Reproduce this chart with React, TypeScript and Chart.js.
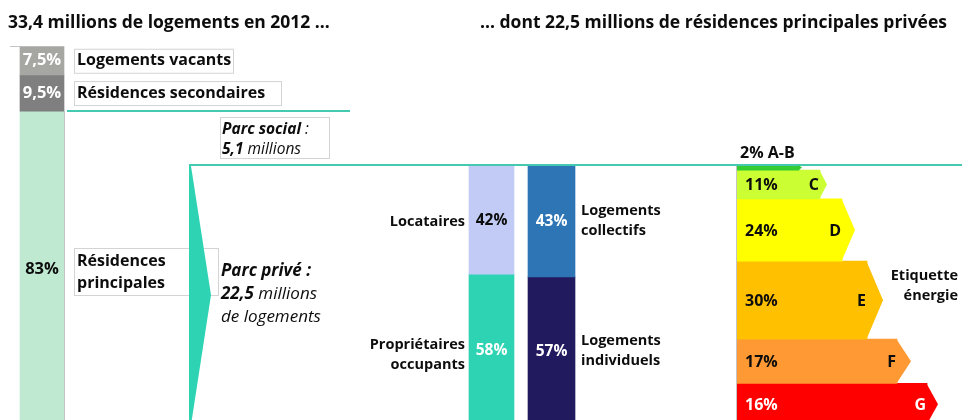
import React, { useEffect, useRef } from 'react';
import { Chart, registerables } from 'chart.js';

Chart.register(...registerables);

// ---------------- data ----------------
const YEAR = 2012;
const TOTAL_HOUSING_M = 33.4;
const PRIVATE_MAIN_M = 22.5;
const SOCIAL_M = 5.1;

const stockCategories = ['Logements vacants', 'Résidences secondaires', 'Résidences principales'];
const stockShares = [7.5, 9.5, 83];

const tenureCategories = ['Locataires', 'Propriétaires occupants'];
const tenureShares = [42, 58];

const buildingCategories = ['Logements collectifs', 'Logements individuels'];
const buildingShares = [43, 57];

const energyClasses = ['A-B', 'C', 'D', 'E', 'F', 'G'];
const energyShares = [2, 11, 24, 30, 17, 16];

// ---------------- style / layout ----------------
const W = 962;
const H = 420;
const FONT = "'Open Sans', 'DejaVu Sans', sans-serif";
const TEXT = '#0d0d0d';
const TEAL = '#2ED3B4';
const TEAL_LINE = '#45C9B1';
const AXIS_GRAY = '#c4c4c4';
const BOX_BORDER = '#d4d4d4';

const TITLE_SIZE = 17.5;
const BOX_SIZE = 16;
const STOCK_PCT_SIZE = 16.5;
const LABEL_SIZE = 14.5;
const BAR_PCT_SIZE = 15.5;
const ENERGY_SIZE = 16;
const ITALIC_SIZE = 17;
const SOCIAL_SIZE = 15.5;

const stockColors = ['#A6A6A3', '#7F7F7F', '#BFE9D0'];
const stockLabelColors = ['#ffffff', '#ffffff', TEXT];
const tenureColors = ['#C1CBF5', '#2ED3B4'];
const tenureLabelColors = [TEXT, '#ffffff'];
const buildingColors = ['#2E75B6', '#211A5F'];
const buildingLabelColors = ['#ffffff', '#ffffff'];
const energyColors = ['#33CC33', '#CCFF33', '#FFFF00', '#FFC000', '#FF9933', '#FF0000'];
const energyTextColors = [TEXT, TEXT, TEXT, TEXT, TEXT, '#ffffff'];
const energyWidths = [62, 83, 105, 130, 160, 190];
const energyTips = [3, 7, 13, 16, 14, 11];

const LEFT_TOP_PX = 46.5;
const LEFT_PX_PER_PCT = 3.8;
const RIGHT_TOP_PX = 165;
const RIGHT_PX_PER_PCT = 2.6;
const STOCK_X = 42;
const STOCK_W = 44;
const TENURE_X = 491.5;
const TENURE_W = 45;
const BUILD_X = 551.5;
const BUILD_W = 47;
const ENERGY_LEFT = 737;

// ---------------- helpers ----------------
function floating(values: number[]): [number, number][] {
  const out: [number, number][] = [];
  let acc = 0;
  for (const v of values) {
    out.push([acc, acc + v]);
    acc += v;
  }
  return out;
}
const fmtNum = (v: number) => String(v).replace('.', ',');
const pct = (v: number) => fmtNum(v) + '%';

type TOpts = { size?: number; bold?: boolean; italic?: boolean; color?: string; align?: CanvasTextAlign; baseline?: CanvasTextBaseline };
function txt(ctx: CanvasRenderingContext2D, s: string, x: number, y: number, o: TOpts = {}) {
  const { size = LABEL_SIZE, bold = true, italic = false, color = TEXT, align = 'left', baseline = 'middle' } = o;
  ctx.font = `${italic ? 'italic ' : ''}${bold ? 'bold ' : ''}${size}px ${FONT}`;
  ctx.fillStyle = color;
  ctx.textAlign = align;
  ctx.textBaseline = baseline;
  ctx.fillText(s, x, y);
}
function runs(ctx: CanvasRenderingContext2D, parts: [string, boolean, boolean][], x: number, y: number, size: number) {
  let cx = x;
  for (const [s, bold, italic] of parts) {
    ctx.font = `${italic ? 'italic ' : ''}${bold ? 'bold ' : ''}${size}px ${FONT}`;
    ctx.fillStyle = TEXT;
    ctx.textAlign = 'left';
    ctx.textBaseline = 'alphabetic';
    ctx.fillText(s, cx, y);
    cx += ctx.measureText(s).width;
  }
}
function box(ctx: CanvasRenderingContext2D, x: number, y: number, w: number, h: number) {
  ctx.fillStyle = '#ffffff';
  ctx.fillRect(x, y, w, h);
  ctx.strokeStyle = BOX_BORDER;
  ctx.lineWidth = 1;
  ctx.strokeRect(x + 0.5, y + 0.5, w, h);
}
function hline(ctx: CanvasRenderingContext2D, x1: number, x2: number, y: number, color: string, lw: number) {
  ctx.strokeStyle = color;
  ctx.lineWidth = lw;
  ctx.beginPath();
  ctx.moveTo(x1, y);
  ctx.lineTo(x2, y);
  ctx.stroke();
}
function vline(ctx: CanvasRenderingContext2D, x: number, y1: number, y2: number, color: string, lw: number) {
  ctx.strokeStyle = color;
  ctx.lineWidth = lw;
  ctx.beginPath();
  ctx.moveTo(x, y1);
  ctx.lineTo(x, y2);
  ctx.stroke();
}

// ---------------- datasets ----------------
function buildDatasets() {
  const ds: any[] = [];
  floating(stockShares).forEach((r, i) =>
    ds.push({ label: stockCategories[i], data: [{ x: STOCK_X, y: r }], backgroundColor: stockColors[i], barThickness: STOCK_W, yAxisID: 'yL', grouped: false, borderWidth: 0 })
  );
  floating(tenureShares).forEach((r, i) =>
    ds.push({ label: tenureCategories[i], data: [{ x: TENURE_X, y: r }], backgroundColor: tenureColors[i], barThickness: TENURE_W, yAxisID: 'yR', grouped: false, borderWidth: 0 })
  );
  floating(buildingShares).forEach((r, i) =>
    ds.push({ label: buildingCategories[i], data: [{ x: BUILD_X, y: r }], backgroundColor: buildingColors[i], barThickness: BUILD_W, yAxisID: 'yR', grouped: false, borderWidth: 0 })
  );
  floating(energyShares).forEach((r, i) =>
    ds.push({ label: 'Classe ' + energyClasses[i], data: [{ x: ENERGY_LEFT + energyWidths[i] / 2, y: r }], backgroundColor: energyColors[i], barThickness: energyWidths[i], yAxisID: 'yR', grouped: false, borderWidth: 0 })
  );
  return ds;
}

const N_STOCK = stockShares.length;
const N_TEN = tenureShares.length;
const N_BLD = buildingShares.length;

function geom(chart: any, dsIndex: number) {
  const el = chart.getDatasetMeta(dsIndex).data[0];
  const p = el.getProps(['x', 'y', 'base', 'width'], true);
  return { left: p.x - p.width / 2, right: p.x + p.width / 2, cx: p.x, top: Math.min(p.y, p.base), bottom: Math.max(p.y, p.base) };
}

const infographicPlugin = {
  id: 'infographic',
  afterDatasetsDraw(chart: any) {
    const ctx: CanvasRenderingContext2D = chart.ctx;
    const yL = chart.scales.yL;
    const yR = chart.scales.yR;
    ctx.save();

    // titles
    txt(ctx, `${fmtNum(TOTAL_HOUSING_M)} millions de logements en ${YEAR} ...`, 8, 23, { size: TITLE_SIZE });
    txt(ctx, `... dont ${fmtNum(PRIVATE_MAIN_M)} millions de résidences principales privées`, 480, 23, { size: TITLE_SIZE });

    // axis-like thin lines
    hline(ctx, 10, 20, LEFT_TOP_PX, AXIS_GRAY, 1);
    vline(ctx, 64.5, yL.getPixelForValue(stockShares[0] + stockShares[1]), H, AXIS_GRAY, 1);
    vline(ctx, ENERGY_LEFT - 0.5, yR.getPixelForValue(0), H, AXIS_GRAY, 1);

    // teal separators
    const secEnd = yL.getPixelForValue(stockShares[0] + stockShares[1]);
    hline(ctx, 67, 350, secEnd, TEAL_LINE, 2);
    const privTop = yR.getPixelForValue(0);
    hline(ctx, 189, W, privTop, TEAL_LINE, 2);

    // left stacked bar labels
    floating(stockShares).forEach((r, i) => {
      const g = geom(chart, i);
      const yc = yL.getPixelForValue((r[0] + r[1]) / 2);
      txt(ctx, pct(stockShares[i]), g.cx, yc, { size: STOCK_PCT_SIZE, color: stockLabelColors[i], align: 'center' });
    });

    // category boxes
    const yVac = yL.getPixelForValue(stockShares[0] / 2);
    box(ctx, 74, yVac - 12, 159, 24);
    txt(ctx, stockCategories[0], 77, yVac, { size: BOX_SIZE });
    const ySec = yL.getPixelForValue(stockShares[0] + stockShares[1] / 2);
    box(ctx, 74, ySec - 12, 207, 24);
    txt(ctx, stockCategories[1], 77, ySec, { size: BOX_SIZE });

    box(ctx, 74, 248, 144, 47);
    const [pr1, pr2] = stockCategories[2].split(' ');
    txt(ctx, pr1, 77, 266, { size: BOX_SIZE, baseline: 'alphabetic' });
    txt(ctx, pr2, 77, 288, { size: BOX_SIZE, baseline: 'alphabetic' });

    box(ctx, 220, 117, 109, 41);
    runs(ctx, [['Parc social', true, true], [' :', false, true]], 222, 134, SOCIAL_SIZE);
    runs(ctx, [[fmtNum(SOCIAL_M), true, true], [' millions', false, true]], 222, 154, SOCIAL_SIZE);

    // teal chevron: private main residences
    const privBottom = yR.getPixelForValue(100);
    const mid = (privTop + privBottom) / 2;
    ctx.fillStyle = TEAL;
    ctx.beginPath();
    ctx.moveTo(189, privTop + 1);
    ctx.lineTo(191, privTop + 1);
    ctx.lineTo(211, mid);
    ctx.lineTo(191, privBottom);
    ctx.lineTo(189, privBottom);
    ctx.closePath();
    ctx.fill();

    runs(ctx, [['Parc privé :', true, true]], 221, 276, ITALIC_SIZE);
    runs(ctx, [[fmtNum(PRIVATE_MAIN_M), true, true], [' millions', false, true]], 221, 299, ITALIC_SIZE);
    runs(ctx, [['de logements', false, true]], 221, 322, ITALIC_SIZE);

    // tenure bar
    floating(tenureShares).forEach((r, i) => {
      const g = geom(chart, N_STOCK + i);
      const yc = yR.getPixelForValue((r[0] + r[1]) / 2);
      txt(ctx, pct(tenureShares[i]), g.cx, yc + 1, { size: BAR_PCT_SIZE, color: tenureLabelColors[i], align: 'center' });
    });
    {
      const y0 = yR.getPixelForValue(tenureShares[0] / 2) + 2;
      txt(ctx, tenureCategories[0], 465, y0, { align: 'right' });
      const y1 = yR.getPixelForValue(tenureShares[0] + tenureShares[1] / 2);
      const [a, b] = tenureCategories[1].split(' ');
      txt(ctx, a, 465, y1 - 5, { align: 'right' });
      txt(ctx, b, 465, y1 + 15, { align: 'right' });
    }

    // building bar
    floating(buildingShares).forEach((r, i) => {
      const g = geom(chart, N_STOCK + N_TEN + i);
      const yc = yR.getPixelForValue((r[0] + r[1]) / 2);
      txt(ctx, pct(buildingShares[i]), g.cx, yc + 1, { size: BAR_PCT_SIZE, color: buildingLabelColors[i], align: 'center' });
    });
    floating(buildingShares).forEach((r, i) => {
      const yc = yR.getPixelForValue((r[0] + r[1]) / 2);
      const [a, b] = buildingCategories[i].split(' ');
      txt(ctx, a, 581, yc - 10, {});
      txt(ctx, b, 581, yc + 10, {});
    });

    // energy arrows
    const eRanges = floating(energyShares);
    eRanges.forEach((r, i) => {
      const g = geom(chart, N_STOCK + N_TEN + N_BLD + i);
      const m = (g.top + g.bottom) / 2;
      ctx.fillStyle = energyColors[i];
      ctx.beginPath();
      ctx.moveTo(g.right - 0.5, g.top);
      ctx.lineTo(g.right + energyTips[i], m);
      ctx.lineTo(g.right - 0.5, g.bottom);
      ctx.closePath();
      ctx.fill();
    });
    eRanges.forEach((r, i) => {
      const g = geom(chart, N_STOCK + N_TEN + N_BLD + i);
      const m = (g.top + g.bottom) / 2;
      if (i === 0) {
        txt(ctx, `${pct(energyShares[0])} ${energyClasses[0]}`, 740, 153, { size: ENERGY_SIZE });
        return;
      }
      txt(ctx, pct(energyShares[i]), 745, m + 1, { size: ENERGY_SIZE, color: energyTextColors[i] });
      txt(ctx, energyClasses[i], g.right - 1, m + 1, { size: ENERGY_SIZE, color: energyTextColors[i], align: 'right' });
    });
    txt(ctx, 'Etiquette', 958, 276, { align: 'right' });
    txt(ctx, 'énergie', 958, 296, { align: 'right' });

    ctx.restore();
  },
};

export default function App() {
  const ref = useRef<HTMLCanvasElement | null>(null);
  useEffect(() => {
    if (!ref.current) return;
    const chart = new Chart(ref.current, {
      type: 'bar',
      data: { datasets: buildDatasets() },
      options: {
        animation: false,
        responsive: false,
        events: [],
        layout: { padding: 0 },
        plugins: { legend: { display: false }, tooltip: { enabled: false }, title: { display: false } },
        scales: {
          x: { type: 'linear', min: 0, max: W, display: false, bounds: 'data', offset: false },
          yL: { type: 'linear', axis: 'y', reverse: true, min: -LEFT_TOP_PX / LEFT_PX_PER_PCT, max: (H - LEFT_TOP_PX) / LEFT_PX_PER_PCT, display: false, bounds: 'data' },
          yR: { type: 'linear', axis: 'y', reverse: true, min: -RIGHT_TOP_PX / RIGHT_PX_PER_PCT, max: (H - RIGHT_TOP_PX) / RIGHT_PX_PER_PCT, display: false, bounds: 'data' },
        },
      } as any,
      plugins: [infographicPlugin],
    });
    return () => chart.destroy();
  }, []);
  return (
    <div style={{ position: 'absolute', left: 0, top: 0, width: W, height: H, background: '#fff' }}>
      <canvas ref={ref} width={W} height={H} style={{ display: 'block' }} />
    </div>
  );
}
